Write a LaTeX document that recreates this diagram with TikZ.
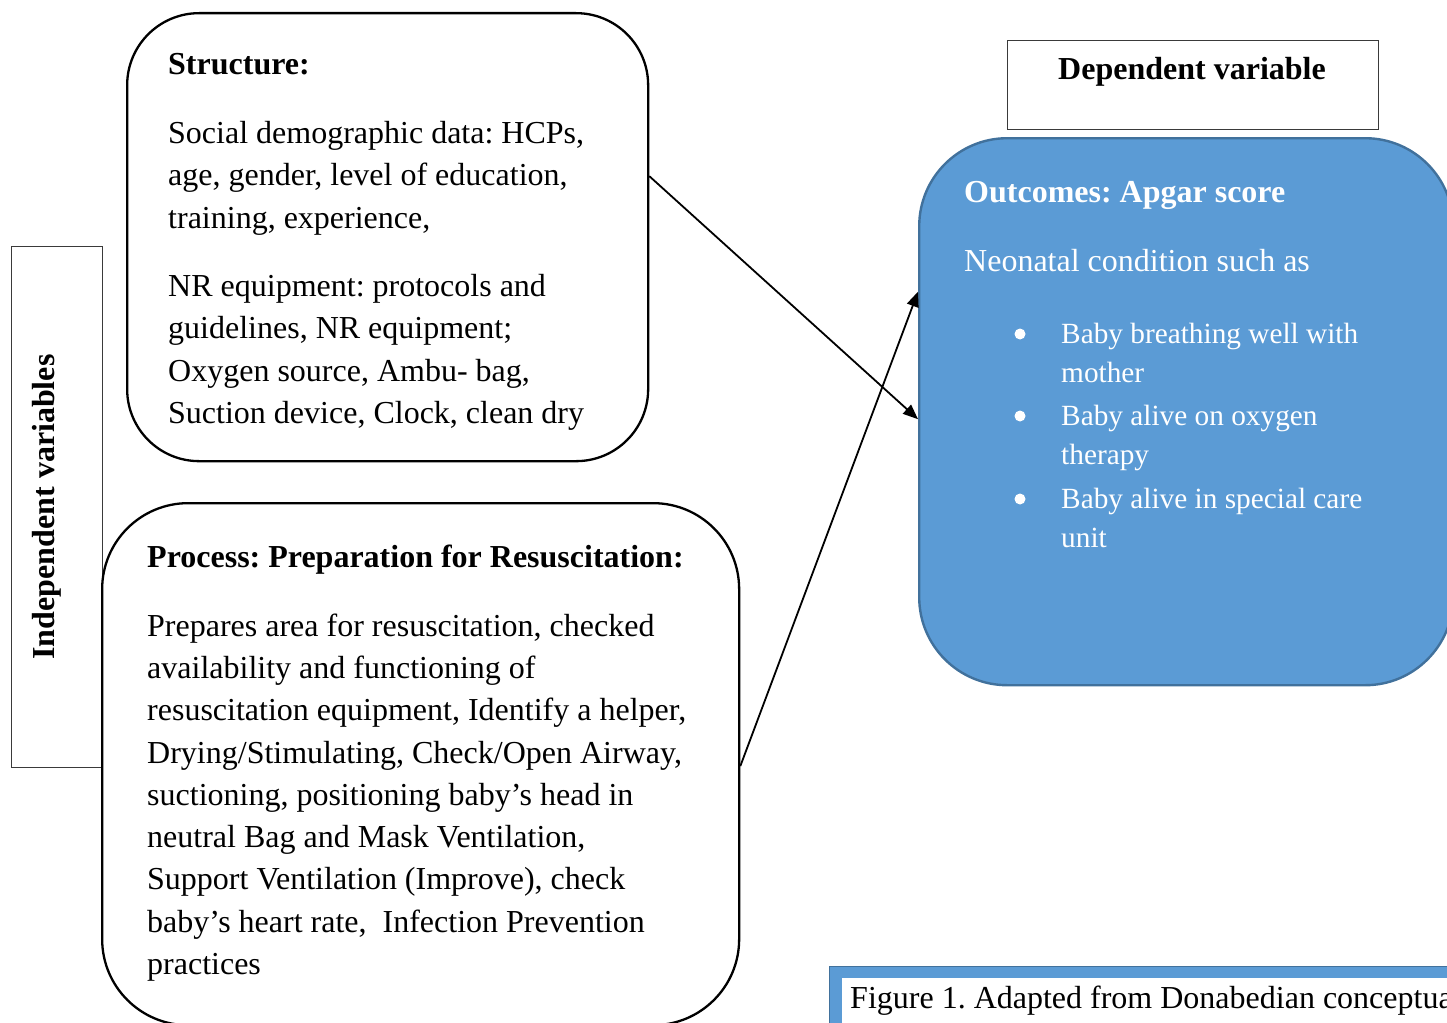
\documentclass[tikz,border=0pt]{standalone}
\usepackage{fontspec}
\setmainfont{Liberation Serif}
\usetikzlibrary{arrows.meta}
\definecolor{outblue}{HTML}{5B9BD5}
\definecolor{outedge}{HTML}{41719C}
\definecolor{boxgray}{HTML}{3A3A3A}
\tikzset{
  txt/.style={anchor=base west, inner sep=0pt, font=\fontsize{32}{40}\selectfont},
  hd/.style={txt, font=\fontsize{32}{40}\selectfont\bfseries},
  wtxt/.style={txt, text=white},
  wsmall/.style={txt, text=white, font=\fontsize{29.3}{36}\selectfont},
  whd/.style={hd, text=white},
  roundbox/.style={draw=black, line width=2.3pt, anchor=north west, inner sep=0pt},
  plainbox/.style={draw=boxgray, line width=1.3pt, anchor=north west, inner sep=0pt},
  arr/.style={line width=1.8pt, -{Triangle[length=15pt,width=12pt]}},
}
\begin{document}
\frenchspacing
\begin{tikzpicture}[x=1pt,y=-1pt]
\useasboundingbox (0,0) rectangle (1447,1022);
\clip (0,0) rectangle (1447,1022);

% boxes
\node[plainbox, minimum width=91pt, minimum height=521pt] (indep) at (11,246) {};
\node[roundbox, rounded corners=72pt, minimum width=521pt, minimum height=448pt] (structure) at (126,12) {};
\node[roundbox, rounded corners=86pt, minimum width=637pt, minimum height=522pt] (process) at (101,502) {};
\node[plainbox, minimum width=371pt, minimum height=89pt] (depbox) at (1007,40) {};
\node[draw=outedge, fill=outblue, line width=2.4pt, rounded corners=88pt, anchor=north west, inner sep=0pt,
      minimum width=534pt, minimum height=547pt] (outcomes) at (918,137) {};

% caption box
\node[draw=outedge, line width=1pt, fill=outblue, anchor=north west, inner sep=0pt,
      minimum width=640pt, minimum height=80pt] (capbox) at (829,966) {};
\fill[white] (842,978) rectangle (1470,1050);

% independent label
\node[rotate=90, anchor=base, inner sep=0pt, font=\fontsize{32}{40}\selectfont\bfseries] (indeplbl) at (54,507) {Independent variables};

% dependent label
\node[anchor=base, inner sep=0pt, font=\fontsize{32}{40}\selectfont\bfseries] (deplbl) at (1192,80) {Dependent variable};

% structure text
\node[hd] (st0) at (168,75) {Structure:};
\node[txt] (st1) at (168,143) {Social demographic data: HCPs,};
\node[txt] (st2) at (168,185) {age, gender, level of education,};
\node[txt] (st3) at (168,228) {training, experience,};
\node[txt] (st4) at (168,296) {NR equipment: protocols and};
\node[txt] (st5) at (168,338) {guidelines, NR equipment;};
\node[txt] (st6) at (168,381) {Oxygen source, Ambu- bag,};
\node[txt] (st7) at (168,423) {Suction device, Clock, clean dry};

% process text
\node[hd] (pr0) at (147,567) {Process: Preparation for Resuscitation:};
\node[txt] (pr1) at (147,636) {Prepares area for resuscitation, checked};
\node[txt] (pr2) at (147,678) {availability and functioning of};
\node[txt] (pr3) at (147,720) {resuscitation equipment, Identify a helper,};
\node[txt] (pr4) at (147,763) {Drying/Stimulating, Check/Open Airway,};
\node[txt] (pr5) at (147,805) {suctioning, positioning baby’s head in};
\node[txt] (pr6) at (147,847) {neutral Bag and Mask Ventilation,};
\node[txt] (pr7) at (147,889) {Support Ventilation (Improve), check};
\node[txt] (pr8) at (147,932) {baby’s heart rate,\ \ Infection Prevention};
\node[txt] (pr9) at (147,974) {practices};

% outcomes text
\node[whd] (oc0) at (964,202) {Outcomes: Apgar score};
\node[wtxt] (oc1) at (964,271) {Neonatal condition such as};
\fill[white] (1020,334) circle (5.5pt);
\fill[white] (1020,416) circle (5.5pt);
\fill[white] (1020,499) circle (5.5pt);
\node[wsmall] (oc2) at (1061,343) {Baby breathing well with};
\node[wsmall] (oc3) at (1061,382) {mother};
\node[wsmall] (oc4) at (1061,425) {Baby alive on oxygen};
\node[wsmall] (oc5) at (1061,464) {therapy};
\node[wsmall] (oc6) at (1061,508) {Baby alive in special care};
\node[wsmall] (oc7) at (1061,547) {unit};

% caption
\node[txt] (cap) at (850,1008) {Figure 1. Adapted from Donabedian conceptual};

% arrows
\draw[arr] ([yshift=61pt]structure.east) -- ([yshift=-7.5pt]outcomes.west);
\draw[arr] ([yshift=-2pt]process.east) -- ([yshift=120pt]outcomes.west);
\end{tikzpicture}
\end{document}
